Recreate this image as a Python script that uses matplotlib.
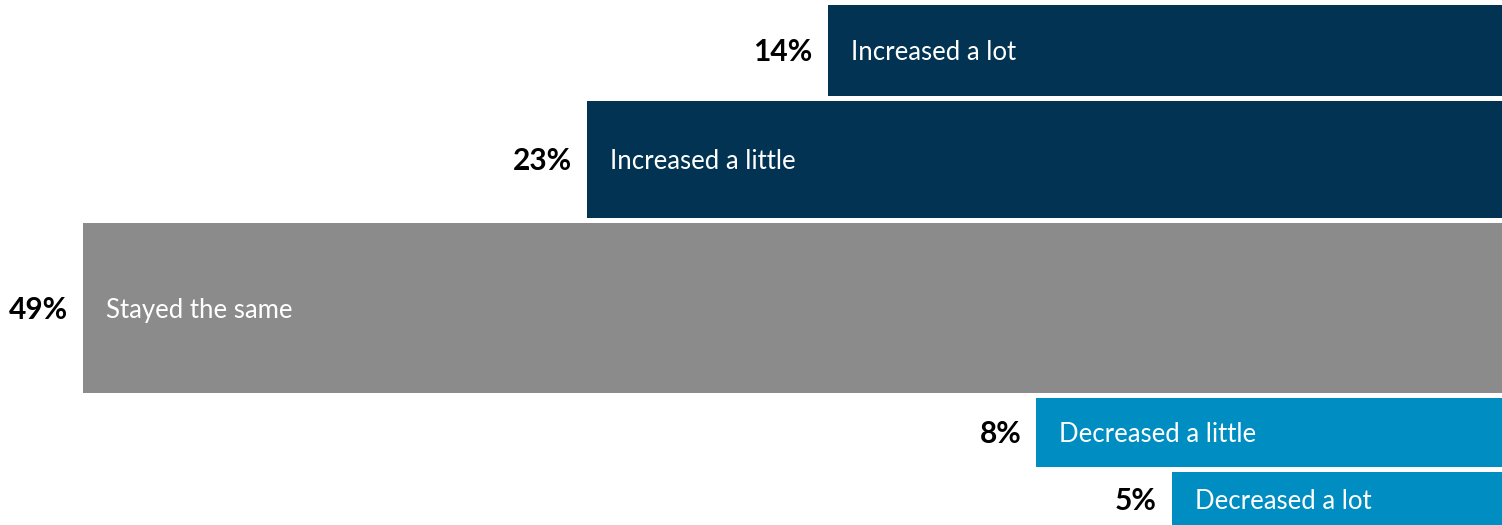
import numpy as np
import matplotlib
matplotlib.use("Agg")
import matplotlib.pyplot as plt

categories = ["Increased a lot", "Increased a little", "Stayed the same",
              "Decreased a little", "Decreased a lot"]
values = [14, 23, 49, 8, 5]
colors = ["#023352", "#023352", "#8b8b8b", "#008dc2", "#008dc2"]

# Layout: each bar is a rectangle of fixed aspect ratio whose area is
# proportional to its value; bars are right-anchored beyond the canvas edge.
FIG_W, FIG_H = 1502, 525
W_PER_SQRT = 228.6
H_PER_SQRT = 24.35
RIGHT = FIG_W + 181
TOP = 5
GAP = 5

vals = np.array(values, dtype=float)
widths = W_PER_SQRT * np.sqrt(vals)
heights = H_PER_SQRT * np.sqrt(vals)
tops = TOP + np.concatenate([[0], np.cumsum(heights + GAP)[:-1]])
centers = tops + heights / 2
lefts = RIGHT - widths

fig = plt.figure(figsize=(FIG_W / 100, FIG_H / 100), dpi=100)
ax = fig.add_axes([0, 0, 1, 1])
ax.set_xlim(0, FIG_W)
ax.set_ylim(FIG_H, 0)
ax.axis("off")

ax.barh(centers, widths, height=heights, left=lefts, color=colors,
        edgecolor="none")

for c, v, l, yc in zip(categories, values, lefts, centers):
    ax.text(l - 15, yc + 1.5, f"{v}%", ha="right", va="center",
            fontsize=21.5, fontweight="bold", family="Lato", color="#000000")
    ax.text(l + 23, yc + 2, c, ha="left", va="center",
            fontsize=18.5, fontweight="normal", family="Lato", color="white")

fig.savefig("out.png", dpi=100)
